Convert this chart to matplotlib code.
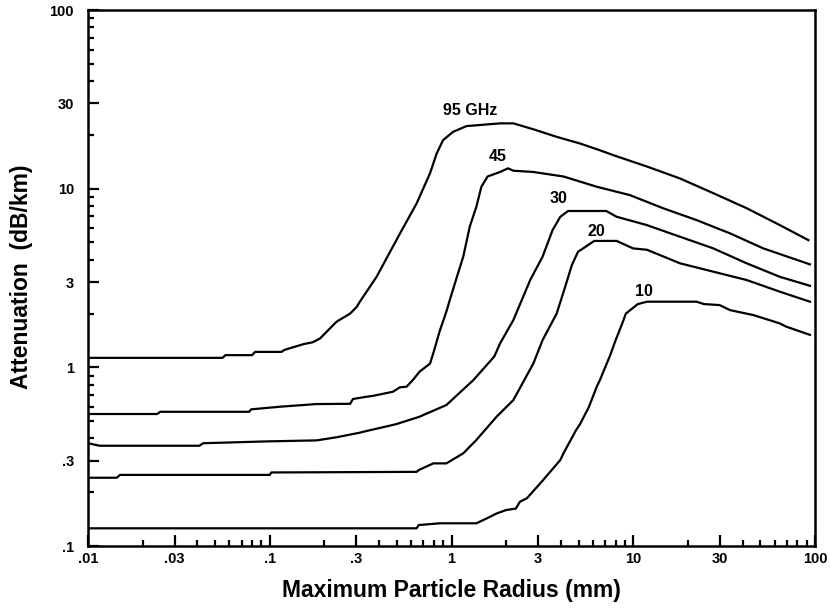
import matplotlib
matplotlib.use("Agg")
import matplotlib.pyplot as plt
from matplotlib.ticker import FixedLocator, NullFormatter

plt.rcParams['font.family'] = ['Liberation Sans', 'DejaVu Sans']
plt.rcParams['font.weight'] = 'bold'

# ---- data ----
x95 = [0.01, 0.055, 0.057, 0.080, 0.083, 0.116, 0.12, 0.136, 0.154, 0.172, 0.189, 0.233,
       0.277, 0.301, 0.314, 0.387, 0.521, 0.643, 0.762, 0.828, 0.899, 1.02, 1.21, 1.85,
       2.19, 2.82, 3.79, 5.09, 6.56, 7.77, 11.9, 18.1, 27.6, 42.1, 64.1, 92.0]
y95 = [1.13, 1.13, 1.17, 1.17, 1.22, 1.22, 1.25, 1.30, 1.35, 1.38, 1.45, 1.80,
       2.0, 2.18, 2.34, 3.21, 5.62, 8.27, 12.2, 15.7, 18.7, 20.8, 22.4, 23.2,
       23.2, 21.5, 19.5, 17.9, 16.4, 15.4, 13.3, 11.4, 9.43, 7.77, 6.25, 5.15]

x45 = [0.01, 0.024, 0.025, 0.077, 0.079, 0.114, 0.181, 0.277, 0.287, 0.327, 0.371, 0.476,
       0.52, 0.566, 0.613, 0.667, 0.762, 0.794, 0.862, 0.937, 0.981, 1.07, 1.16, 1.26,
       1.37, 1.46, 1.58, 1.85, 2.05, 2.19, 2.82, 4.13, 6.3, 9.59, 14.6, 22.3, 34.1, 52.0, 93.8]
y45 = [0.548, 0.548, 0.564, 0.564, 0.582, 0.602, 0.623, 0.625, 0.665, 0.68, 0.693, 0.73,
       0.773, 0.779, 0.849, 0.945, 1.05, 1.2, 1.6, 2.05, 2.4, 3.2, 4.16, 6.12,
       7.92, 10.25, 11.7, 12.4, 13.0, 12.6, 12.4, 11.7, 10.25, 9.2, 7.77, 6.67, 5.62, 4.63, 3.77]

x30 = [0.01, 0.0116, 0.041, 0.043, 0.096, 0.181, 0.233, 0.314, 0.327, 0.476, 0.50, 0.667,
       0.70, 0.937, 1.32, 1.72, 1.85, 2.19, 2.71, 3.17, 3.6, 3.97, 4.38, 7.1, 8.11, 11.9,
       18.1, 27.6, 42.1, 64.1, 93.8]
y30 = [0.376, 0.364, 0.364, 0.376, 0.385, 0.39, 0.406, 0.431, 0.436, 0.476, 0.482, 0.529,
       0.541, 0.615, 0.849, 1.15, 1.36, 1.84, 3.08, 4.16, 5.87, 6.96, 7.5, 7.5, 6.96, 6.25,
       5.38, 4.63, 3.82, 3.21, 2.86]

x20 = [0.01, 0.0144, 0.015, 0.1, 0.102, 0.643, 0.66, 0.794, 0.937, 1.16, 1.37, 1.77, 2.19,
       2.82, 3.17, 3.79, 4.22, 4.59, 4.97, 5.3, 6.1, 8.1, 9.11, 9.98, 11.9, 18.1,
       27.6, 42.1, 64.1, 93.8]
y20 = [0.241, 0.241, 0.250, 0.250, 0.258, 0.260, 0.266, 0.290, 0.290, 0.330, 0.392, 0.529, 0.656,
       1.05, 1.42, 2.0, 2.82, 3.73, 4.44, 4.63, 5.1, 5.1, 4.83, 4.63, 4.55, 3.82,
       3.43, 3.08, 2.65, 2.33]

x10 = [0.01, 0.643, 0.66, 0.862, 1.37, 1.57, 1.77, 2.0, 2.26, 2.38, 2.6, 3.17, 3.97, 4.13,
       4.85, 5.09, 5.7, 6.3, 6.56, 7.47, 8.0, 8.7, 9.11, 10.6, 11.9, 22.3, 24.5, 29.9, 34.1,
       45.9, 55.9, 64.1, 69.4, 93.8]
y10 = [0.1256, 0.1256, 0.131, 0.134, 0.134, 0.143, 0.152, 0.159, 0.162, 0.177, 0.185, 0.232,
       0.303, 0.33, 0.446, 0.48, 0.60, 0.78, 0.85, 1.17, 1.42, 1.76, 2.0, 2.26, 2.33, 2.33,
       2.26, 2.23, 2.09, 1.96, 1.84, 1.76, 1.69, 1.52]

curve_labels = ["95 GHz", "45", "30", "20", "10"]
label_x = [1.265, 1.80, 3.90, 6.3, 11.5]
label_y = [27.5, 15.2, 8.83, 5.74, 2.65]

xticks = [0.01, 0.03, 0.1, 0.3, 1, 3, 10, 30, 100]
xticklabels = ['.01', '.03', '.1', '.3', '1', '3', '10', '30', '100']
yticks = [0.1, 0.3, 1, 3, 10, 30, 100]
yticklabels = ['.1', '.3', '1', '3', '10', '30', '100']
minor_mult = [2, 4, 5, 6, 7, 8, 9]

# ---- figure ----
fig = plt.figure(figsize=(8.3, 6.15), dpi=100)
ax = fig.add_axes([88/830, 1 - 546/615, (815-88)/830, (546-10)/615])

for xs, ys in [(x95, y95), (x45, y45), (x30, y30), (x20, y20), (x10, y10)]:
    ax.plot(xs, ys, color='black', lw=1.6, solid_joinstyle='round')

for t, lx, ly in zip(curve_labels, label_x, label_y):
    ax.text(lx, ly, t, ha='center', va='center', fontsize=11.5, fontweight='bold')

ax.set_xscale('log')
ax.set_yscale('log')
ax.set_xlim(0.01, 100)
ax.set_ylim(0.1, 100)

ax.xaxis.set_major_locator(FixedLocator(xticks))
ax.set_xticklabels(xticklabels)
ax.yaxis.set_major_locator(FixedLocator(yticks))
ax.set_yticklabels(yticklabels)

def minors(lo, hi):
    out = []
    d = lo
    while d < hi:
        for m in minor_mult:
            out.append(d * m)
        d *= 10
    return out

ax.xaxis.set_minor_locator(FixedLocator(minors(0.01, 100)))
ax.yaxis.set_minor_locator(FixedLocator(minors(0.1, 100)))
ax.xaxis.set_minor_formatter(NullFormatter())
ax.yaxis.set_minor_formatter(NullFormatter())

ax.tick_params(which='both', direction='in', top=False, right=False, width=1.6)
ax.tick_params(which='major', length=8, labelsize=10.5)
ax.tick_params(which='minor', length=4.5)
ax.tick_params(axis='y', which='major', pad=10)
ax.tick_params(axis='x', which='major', pad=4)
for lab in ax.get_xticklabels() + ax.get_yticklabels():
    lab.set_fontweight('bold')

for s in ax.spines.values():
    s.set_linewidth(1.8)

ax.set_xlabel('Maximum Particle Radius (mm)', fontsize=16.5, fontweight='bold')
ax.set_ylabel('Attenuation  (dB/km)', fontsize=16.5, fontweight='bold')
ax.xaxis.set_label_coords(0.5, -0.061)
ax.yaxis.set_label_coords(-0.076, 0.503)

fig.savefig('out.png', dpi=100)
